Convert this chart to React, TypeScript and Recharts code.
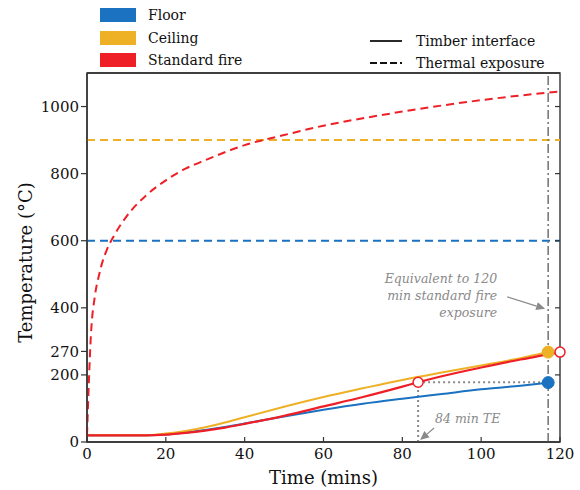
import React from 'react';
import { LineChart, Line, XAxis, YAxis, ReferenceLine, ReferenceDot, ReferenceArea } from 'recharts';

const FONT = '"DejaVu Serif", serif';
const AXIS = '#333333';
const BLUE = '#1a72c0';
const YELLOW = '#eeb024';
const RED = '#ee1f26';
const GREY = '#8a8a8a';

const xTicks = [0, 20, 40, 60, 80, 100, 120];
const yTicks = [0, 200, 270, 400, 600, 800, 1000];
const xMax = 120;
const yMax = 1100;

// Standard fire thermal exposure (dashed red)
const fireTimes = [0, 1, 2, 3, 4, 5, 7, 10, 15, 20, 25, 30, 40, 50, 60, 70, 80, 90, 100, 110, 120];
const fireExposure = [20, 320, 435, 495, 540, 572, 618, 672, 735, 780, 815, 840, 885, 915, 943, 965, 985, 1003, 1019, 1033, 1045];

// Timber interface temperatures (solid)
const slabTimes = [0, 5, 10, 15, 20, 25, 30, 35, 40, 50, 60, 70, 80, 90, 100, 110, 117];
const floorInterface = [20, 20, 20, 20, 22, 28, 36, 45, 55, 76, 96, 114, 129, 143, 157, 168, 177];
const ceilingInterface = [20, 20, 20, 20, 25, 33, 44, 58, 74, 105, 134, 160, 185, 207, 228, 250, 268];
const fireIfTimes = [0, 5, 10, 15, 20, 25, 30, 35, 40, 50, 60, 70, 80, 84, 90, 100, 110, 117, 120];
const fireInterface = [20, 20, 20, 20, 22, 27, 34, 43, 54, 78, 106, 134, 165, 178, 196, 222, 246, 261, 268];

// Thermal exposure levels
const floorExposure = 600;
const ceilingExposure = 900;

// Annotations
const equivTime = 117;
const teTime = 84;
const teTemp = 178;
const floorEnd = 177;
const ceilingEnd = 268;
const fireEnd = 268;
const noteAnchorTemp = 400;

const toData = (ts: number[], vs: number[]) => ts.map((t, i) => ({ t, v: vs[i] }));
const fireData = toData(fireTimes, fireExposure);
const floorData = toData(slabTimes, floorInterface);
const ceilingData = toData(slabTimes, ceilingInterface);
const fireIfData = toData(fireIfTimes, fireInterface);

const Arrow = ({ x1, y1, x2, y2, color }: any) => {
  const ang = Math.atan2(y2 - y1, x2 - x1);
  const L = 9, W = 4;
  const bx = x2 - L * Math.cos(ang);
  const by = y2 - L * Math.sin(ang);
  const px = -Math.sin(ang) * W;
  const py = Math.cos(ang) * W;
  return (
    <g>
      <line x1={x1} y1={y1} x2={bx} y2={by} stroke={color} strokeWidth={1.2} />
      <polygon points={`${x2},${y2} ${bx + px},${by + py} ${bx - px},${by - py}`} fill={color} />
    </g>
  );
};

const noteStyle = { fontFamily: FONT, fontStyle: 'italic', fontSize: 12.5, fill: GREY } as any;

const EquivNote = (props: any) => {
  const { cx, cy } = props;
  if (cx == null || cy == null) return null;
  const tx = cx - 51;
  return (
    <g>
      <text x={tx} y={cy - 25} textAnchor="end" style={noteStyle}>Equivalent to 120</text>
      <text x={tx} y={cy - 8} textAnchor="end" style={noteStyle}>min standard fire</text>
      <text x={tx} y={cy + 9} textAnchor="end" style={noteStyle}>exposure</text>
      <Arrow x1={cx - 41} y1={cy - 11} x2={cx - 3} y2={cy + 1} color={GREY} />
    </g>
  );
};

const TENote = (props: any) => {
  const { cx, cy } = props;
  if (cx == null || cy == null) return null;
  return (
    <g>
      <text x={cx + 17} y={cy - 19} textAnchor="start" style={noteStyle}>84 min TE</text>
      <Arrow x1={cx + 16} y1={cy - 14} x2={cx + 2} y2={cy - 2} color={GREY} />
    </g>
  );
};

// inward tick on the right frame edge
const RightTick = (props: any) => {
  const { cx, cy } = props;
  if (cx == null || cy == null) return null;
  return <line x1={cx - 5} y1={cy} x2={cx} y2={cy} stroke={AXIS} strokeWidth={1.2} />;
};

const tickStyle = { fontFamily: FONT, fontSize: 15, fill: '#111' };

export default function App() {
  return (
    <div style={{ position: 'absolute', left: 0, top: 0, width: 580, height: 490, background: '#fff' }}>
      <LineChart width={580} height={490} margin={{ top: 72, right: 20, bottom: 8, left: 27 }}>
        <XAxis
          dataKey="t"
          type="number"
          domain={[0, xMax]}
          ticks={xTicks}
          interval={0}
          height={40}
          tickSize={-5}
          tickMargin={11}
          axisLine={{ stroke: AXIS, strokeWidth: 1.4 }}
          tickLine={{ stroke: AXIS, strokeWidth: 1.2 }}
          tick={tickStyle}
          label={{
            content: (p: any) => {
              const vb = p.viewBox || {};
              return (
                <text x={vb.x + vb.width / 2} y={vb.y + 42} textAnchor="middle" style={{ fontFamily: FONT, fontSize: 18, fill: '#111' }}>
                  Time (mins)
                </text>
              );
            },
          }}
        />
        <XAxis
          xAxisId="top"
          orientation="top"
          dataKey="t"
          type="number"
          domain={[0, xMax]}
          ticks={xTicks}
          interval={0}
          height={1}
          tickSize={-5}
          tick={false}
          axisLine={{ stroke: AXIS, strokeWidth: 1.4 }}
          tickLine={{ stroke: AXIS, strokeWidth: 1.2 }}
        />
        <YAxis
          type="number"
          domain={[0, yMax]}
          ticks={yTicks}
          interval={0}
          width={60}
          tickSize={6}
          tickMargin={2}
          axisLine={{ stroke: AXIS, strokeWidth: 1.4 }}
          tickLine={{ stroke: AXIS, strokeWidth: 1.2 }}
          tick={tickStyle}
          label={{
            content: (p: any) => {
              const vb = p.viewBox || {};
              const cx = vb.x - 2;
              const cy = vb.y + vb.height / 2 + 5;
              return (
                <text
                  x={cx}
                  y={cy}
                  transform={`rotate(-90 ${cx} ${cy})`}
                  textAnchor="middle"
                  dominantBaseline="central"
                  style={{ fontFamily: FONT, fontSize: 18, fill: '#111' }}
                >
                  Temperature (°C)
                </text>
              );
            },
          }}
        />

        {/* plot frame */}
        <ReferenceArea x1={0} x2={xMax} y1={0} y2={yMax} fill="none" fillOpacity={0} stroke={AXIS} strokeWidth={1.4} ifOverflow="visible" />
        {yTicks.filter((v) => v > 0).map((v) => (
          <ReferenceDot key={`rt${v}`} x={xMax} y={v} r={0} shape={RightTick} ifOverflow="visible" />
        ))}

        <ReferenceLine y={floorExposure} stroke={BLUE} strokeWidth={2} strokeDasharray="8 5" />
        <ReferenceLine y={ceilingExposure} stroke={YELLOW} strokeWidth={2} strokeDasharray="8 5" />
        <ReferenceLine x={equivTime} stroke="#7a7a7a" strokeWidth={1.6} strokeDasharray="9 3 2 3" />
        <ReferenceLine
          segment={[{ x: teTime, y: 0 }, { x: teTime, y: teTemp }]}
          stroke={GREY}
          strokeWidth={2}
          strokeDasharray="2 3"
        />
        <ReferenceLine
          segment={[{ x: teTime, y: teTemp }, { x: equivTime, y: teTemp }]}
          stroke={GREY}
          strokeWidth={2}
          strokeDasharray="2 3"
        />

        <Line data={fireData} dataKey="v" type="monotone" stroke={RED} strokeWidth={2} strokeDasharray="8 5" dot={false} isAnimationActive={false} />
        <Line data={floorData} dataKey="v" type="monotone" stroke={BLUE} strokeWidth={2} dot={false} isAnimationActive={false} />
        <Line data={ceilingData} dataKey="v" type="monotone" stroke={YELLOW} strokeWidth={2} dot={false} isAnimationActive={false} />
        <Line data={fireIfData} dataKey="v" type="monotone" stroke={RED} strokeWidth={2.2} dot={false} isAnimationActive={false} />

        <ReferenceDot x={equivTime} y={ceilingEnd} r={6} fill={YELLOW} stroke={YELLOW} />
        <ReferenceDot x={equivTime} y={floorEnd} r={6} fill={BLUE} stroke={BLUE} />
        <ReferenceDot x={teTime} y={teTemp} r={5} fill="#fff" stroke={RED} strokeWidth={1.5} />
        <ReferenceDot x={xMax} y={fireEnd} r={5} fill="#fff" stroke={RED} strokeWidth={1.5} ifOverflow="visible" />
        <ReferenceDot x={equivTime} y={noteAnchorTemp} r={0} shape={EquivNote} />
        <ReferenceDot x={teTime} y={0} r={0} shape={TENote} />
      </LineChart>

      <div style={{ position: 'absolute', left: 0, top: 0, width: 580, height: 72, fontFamily: FONT, fontSize: 14, color: '#111' }}>
        {[
          { label: 'Floor', color: BLUE, top: 8 },
          { label: 'Ceiling', color: YELLOW, top: 31 },
          { label: 'Standard fire', color: RED, top: 53 },
        ].map((it) => (
          <React.Fragment key={it.label}>
            <div style={{ position: 'absolute', left: 100, top: it.top, width: 36, height: 14, background: it.color }} />
            <div style={{ position: 'absolute', left: 148, top: it.top - 2, lineHeight: '18px', whiteSpace: 'nowrap' }}>{it.label}</div>
          </React.Fragment>
        ))}
        <svg style={{ position: 'absolute', left: 0, top: 0 }} width={580} height={72}>
          <line x1={370} y1={41} x2={402} y2={41} stroke="#111" strokeWidth={1.8} />
          <line x1={370} y1={63} x2={403} y2={63} stroke="#111" strokeWidth={1.8} strokeDasharray="7 3 7 3 7 3 2" />
        </svg>
        <div style={{ position: 'absolute', left: 416, top: 32, lineHeight: '18px', whiteSpace: 'nowrap' }}>Timber interface</div>
        <div style={{ position: 'absolute', left: 416, top: 54, lineHeight: '18px', whiteSpace: 'nowrap' }}>Thermal exposure</div>
      </div>
    </div>
  );
}
